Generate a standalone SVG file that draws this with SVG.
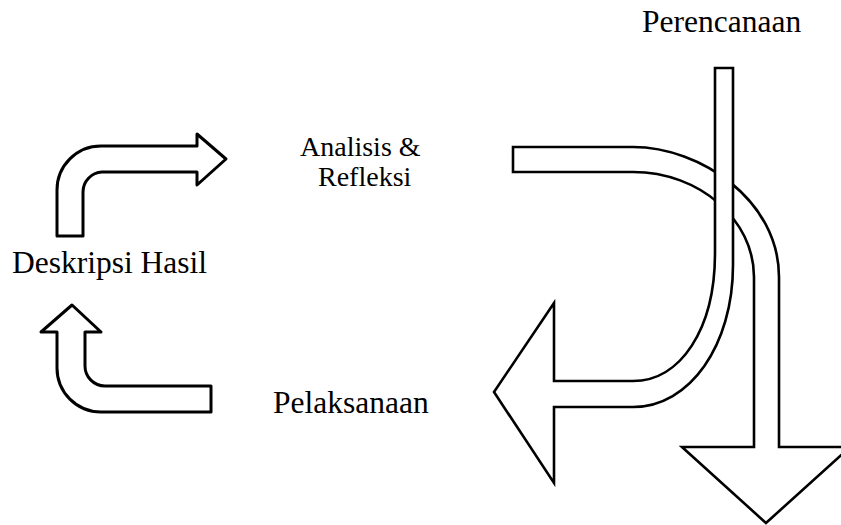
<svg xmlns="http://www.w3.org/2000/svg" width="841" height="525" viewBox="0 0 841 525">
<style>
.lbl{font-family:"Liberation Serif","Times New Roman",serif;font-size:31.5px;fill:#000}
.sm{font-size:28px}
.arr{fill:#fff;stroke:#000;stroke-width:2.6;stroke-linejoin:miter}
.arr2{fill:#fff;stroke:#000;stroke-width:3;stroke-linejoin:round}
</style>
<rect width="841" height="525" fill="#fff"/>
<g id="connectors">
<path id="arrow-analisis-to-pelaksanaan-curve" class="arr" d="M 513 147 L 633 147 C 700 147 779 200 779 277 L 779 447 L 850 447 L 766 523 L 682 447 L 754 447 L 754 277 C 754 220 700 172 633 172 L 513 172 Z"/>
<path id="arrow-perencanaan-to-pelaksanaan" class="arr" d="M 715 68 L 733 68 L 733 265 C 733 345 690 407 633 407 L 554 407 L 554 483 L 494 392 L 554 303 L 554 381 L 633 381 C 680 381 715 330 715 253 Z"/>
<path id="arrow-deskripsi-to-analisis" class="arr2" d="M 57 236 L 57 190 A 44 44 0 0 1 101 146 L 197 146 L 197 134 L 226 159 L 197 185 L 197 172 L 102 172 A 20 20 0 0 0 83 192 L 83 236 Z"/>
<path id="arrow-pelaksanaan-to-deskripsi" class="arr2" d="M 211 386 L 105 386 A 20 20 0 0 1 85 366 L 85 332 L 101 332 L 72 305 L 41 332 L 57 332 L 57 368 A 44 44 0 0 0 101 412 L 211 412 Z"/>
</g>
<g id="node-perencanaan"><text class="lbl" x="642" y="32">Perencanaan</text></g>
<g id="node-analisis"><text class="lbl sm" x="300" y="156">Analisis &amp;</text><text class="lbl sm" x="318" y="186">Refleksi</text></g>
<g id="node-deskripsi"><text class="lbl" x="12" y="273">Deskripsi Hasil</text></g>
<g id="node-pelaksanaan"><text class="lbl" x="273" y="413">Pelaksanaan</text></g>
</svg>
